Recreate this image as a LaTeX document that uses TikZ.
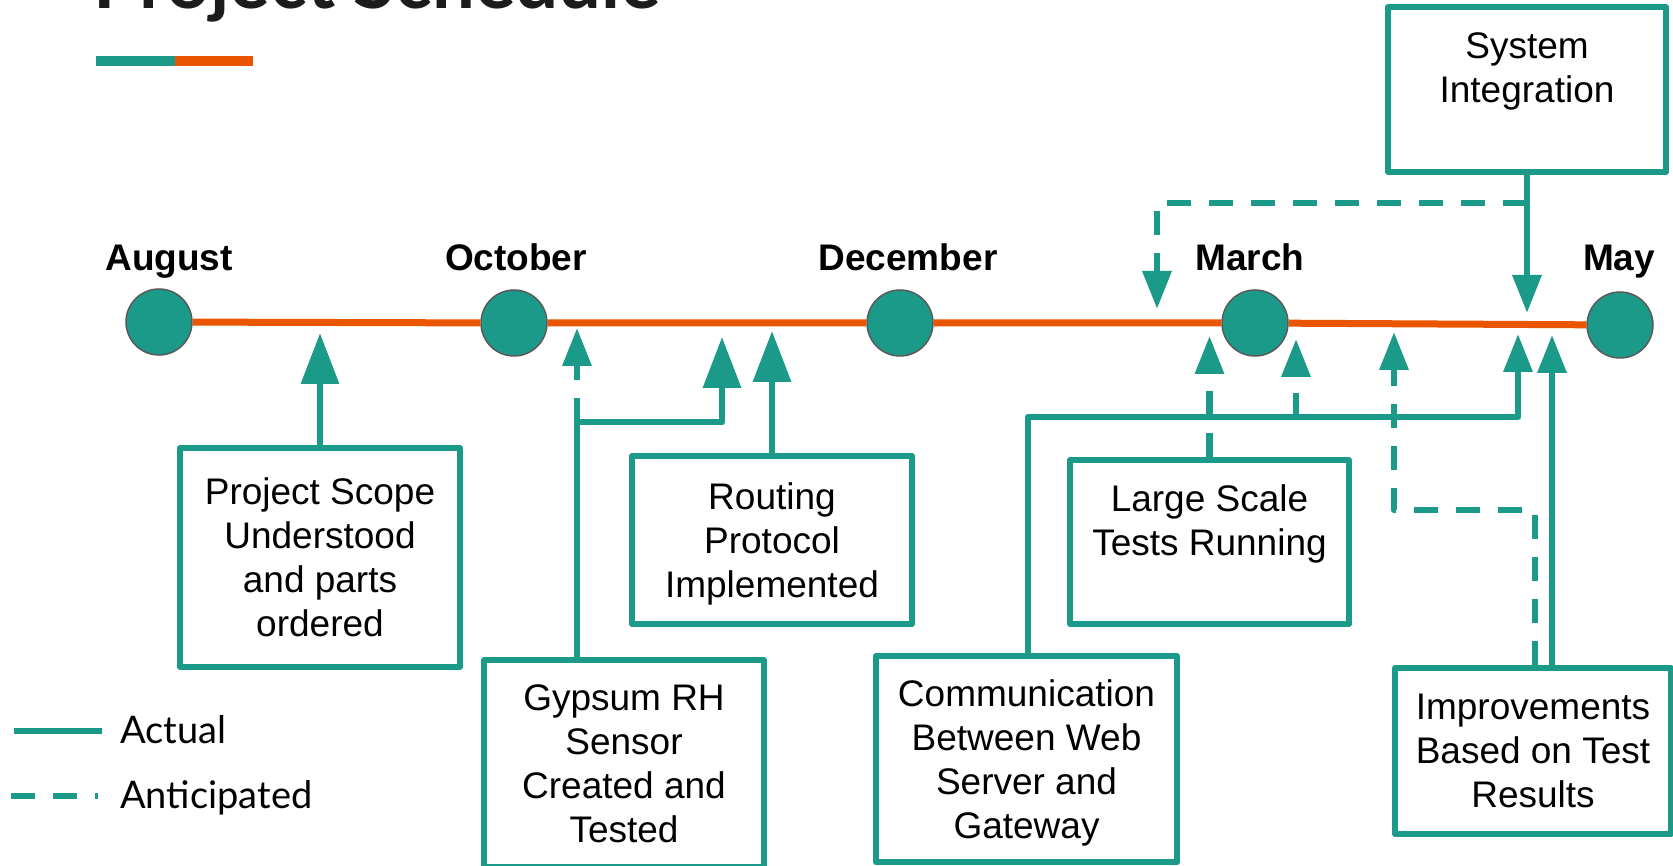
\documentclass[tikz,border=0pt]{standalone}
\usepackage{fontspec}
\setmainfont{Liberation Sans}
\newfontfamily\latofont{Lato}
\usetikzlibrary{arrows.meta,calc}
\definecolor{schedteal}{RGB}{27,154,138}
\definecolor{schedorange}{RGB}{234,86,0}
\definecolor{rimgray}{RGB}{90,90,90}
\definecolor{titlegray}{RGB}{28,28,28}
\begin{document}
\begin{tikzpicture}[x=1pt,y=-1pt,
  box/.style={draw=schedteal, line width=6pt, line join=round, inner sep=0pt,
    align=center, text=black, text depth=0pt, font=\fontsize{37}{44}\selectfont},
  month/.style={font=\bfseries\fontsize{37}{44}\selectfont, anchor=base, inner sep=0pt},
  milestone/.style={circle, fill=schedteal, draw=rimgray, line width=1.5pt,
    minimum size=66pt, inner sep=0pt},
  actual/.style={draw=schedteal, line width=6.5pt, line join=round},
  planned/.style={actual, dash pattern=on 24pt off 18pt},
  bigtip/.style={-{Triangle[width=37pt,length=51pt]}},
  smalltip/.style={-{Triangle[width=28pt,length=38pt]}},
  legendtext/.style={font=\latofont\fontsize{38}{44}\selectfont, anchor=base west, inner sep=0pt}
]
\useasboundingbox (0,0) rectangle (1673,866);
\clip (0,0) rectangle (1673,866);

% title and accent bar
\node[anchor=base west, inner sep=0pt, text=titlegray,
  font=\latofont\bfseries\fontsize{76}{84}\selectfont] (title) at (93,9) {Project Schedule};
\fill[schedteal] (96,56) rectangle (175,66);
\fill[schedorange] (175,56) rectangle (253,66);

% milestones on the timeline
\node[milestone] (aug) at (159,322) {};
\node[milestone] (oct) at (514,323) {};
\node[milestone] (dec) at (900,323) {};
\node[milestone] (mar) at (1255,323) {};
\node[milestone] (may) at (1620,325) {};
\draw[schedorange, line width=7pt] (aug) -- (oct) (oct) -- (dec) (dec) -- (mar) (mar) -- (may);

\node[month] (mAug) at (169,271) {August};
\node[month] (mOct) at (516,271) {October};
\node[month] (mDec) at (908,271) {December};
\node[month] (mMar) at (1250,271) {March};
\node[month] (mMay) at (1619,271) {May};

% task boxes
\node[box, minimum width=280pt, minimum height=219pt] (PS) at (320,557.5)
  {Project Scope\\Understood\\and parts\\ordered};
\node[box, text depth=-8pt, minimum width=280pt, minimum height=207pt] (GY) at (624,763.5)
  {Gypsum RH\\Sensor\\Created and\\Tested};
\node[box, minimum width=280pt, minimum height=168pt] (RP) at (772,540)
  {Routing\\Protocol\\Implemented};
\node[box, minimum width=279pt, minimum height=164pt] (LS) at (1209.5,542)
  {Large Scale\\Tests Running\\~};
\node[box, text depth=-6pt, minimum width=301pt, minimum height=206pt] (CM) at (1026.5,759)
  {Communication\\Between Web\\Server and\\Gateway};
\node[box, text depth=-4pt, minimum width=276pt, minimum height=166pt] (IM) at (1533,751)
  {Improvements\\Based on Test\\Results};
\node[box, text depth=-4pt, minimum width=278pt, minimum height=165pt] (SI) at (1527,89.5)
  {System\\Integration\\~};

% connector end points
\coordinate (tipPS) at (320,333);
\coordinate (gyKnee) at (577,422);
\coordinate (tipGYa) at (722,337);
\coordinate (tipGYp) at (577,328);
\coordinate (tipRP) at (772,331);
\coordinate (tipLS) at (1209.5,336);
\coordinate (cmKnee) at (1028,417);
\coordinate (cmBranch) at (1296,417);
\coordinate (tipCMa) at (1518,334);
\coordinate (tipCMp) at (1296,339);
\coordinate (tipIMa) at (1552,335);
\coordinate (imKneeR) at (1535,510);
\coordinate (imKneeL) at (1394,510);
\coordinate (tipIMp) at (1394,332);
\coordinate (tipSIa) at (1527,313);
\coordinate (siKnee) at (1527,203);
\coordinate (siCorner) at (1157,203);
\coordinate (tipSIp) at (1157,309);

% connectors
\draw[actual,bigtip] (PS.north) -- (tipPS);
\draw[actual,bigtip] (GY.north -| gyKnee) -- (gyKnee) -| (tipGYa);
\draw[planned,smalltip] (gyKnee) -- (tipGYp);
\draw[actual,bigtip] (RP.north) -- (tipRP);
\draw[planned,smalltip] (LS.north) -- (tipLS);
\draw[actual,smalltip] (CM.north -| cmKnee) -- (cmKnee) -| (tipCMa);
\draw[planned,smalltip] (cmBranch) -- (tipCMp);
\draw[actual,smalltip] (IM.north -| tipIMa) -- (tipIMa);
\draw[planned,smalltip] (IM.north -| imKneeR) -- (imKneeR) -- (imKneeL) -- (tipIMp);
\draw[actual,smalltip] (SI.south) -- (tipSIa);
\draw[planned,smalltip] (siKnee) -- (siCorner) -- (tipSIp);

% legend
\coordinate (la1) at (14,731);
\coordinate (la2) at (102,731);
\draw[actual, line width=6pt] (la1) -- (la2);
\node[legendtext] (legA) at (120,743) {Actual};
\coordinate (lp1) at (11,796);
\coordinate (lp2) at (98,796);
\draw[planned, line width=6pt] (lp1) -- (lp2);
\node[legendtext] (legP) at (120,808) {Anticipated};
\end{tikzpicture}
\end{document}
